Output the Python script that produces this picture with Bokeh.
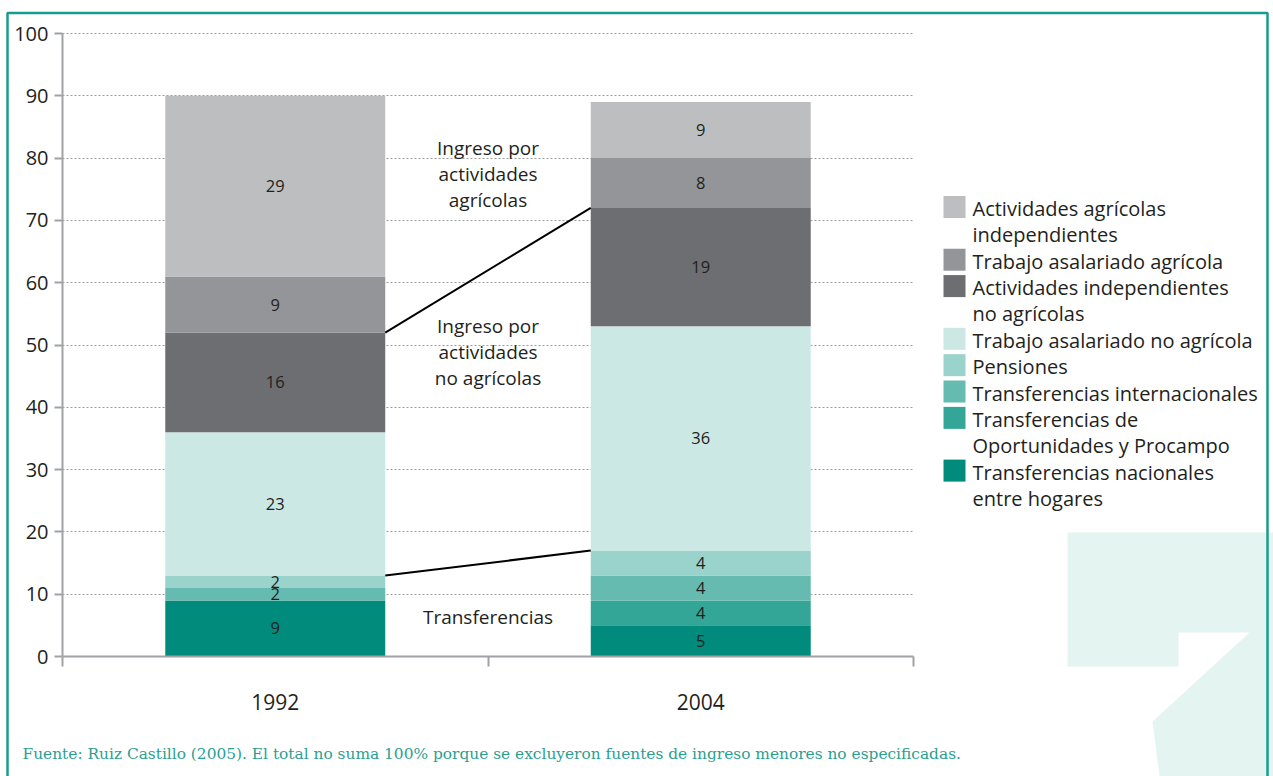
from bokeh.plotting import figure
from bokeh.models import Range1d, FixedTicker, PolyAnnotation, Label, ColumnDataSource
from bokeh.core.properties import value
from bokeh.embed import file_html
from bokeh.resources import INLINE

# ---------------- data ----------------
years = ["1992", "2004"]
series = [
    "Transferencias nacionales\nentre hogares",
    "Transferencias de\nOportunidades y Procampo",
    "Transferencias internacionales",
    "Pensiones",
    "Trabajo asalariado no agrícola",
    "Actividades independientes\nno agrícolas",
    "Trabajo asalariado agrícola",
    "Actividades agrícolas\nindependientes",
]
v1992 = [9, 0, 2, 2, 23, 16, 9, 29]
v2004 = [5, 4, 4, 4, 36, 19, 8, 9]
colors = ["#008b7c", "#33a697", "#66bbb0", "#99d3cb", "#cce8e4",
          "#6d6e71", "#939598", "#bcbec0"]
y_ticks = [0, 10, 20, 30, 40, 50, 60, 70, 80, 90, 100]
group_labels = ["Transferencias",
                "Ingreso por\nactividades\nno agrícolas",
                "Ingreso por\nactividades\nagrícolas"]
group_ends = [4, 6]   # series counts closing the transfer and non-agricultural groups
footnote = ("Fuente: Ruiz Castillo (2005). El total no suma 100% porque se "
            "excluyeron fuentes de ingreso menores no especificadas.")

# ---------------- layout ----------------
W, H = 1273, 776
ox, oy = 62, 656          # canvas pixel of data (0, 0)
band_px = 425.5           # pixels per category band
px_per_y = 6.23           # pixels per percentage point

def X(px):
    return (px - ox) / band_px

def Y(py):
    return (oy - py) / px_per_y

TXT = "#231f20"
FONT = "Open Sans"
AX = "#a0a2a5"

p = figure(width=W, height=H, output_backend="svg", toolbar_location=None,
           title=None, x_range=Range1d(X(0), X(W)), y_range=Range1d(Y(H), Y(0)),
           min_border=0)
p.outline_line_color = None
p.background_fill_color = "white"
p.border_fill_color = "white"

# decoration + frame border
p.add_layout(PolyAnnotation(
    xs=[X(1067), X(1300), X(1300), X(1162), X(1152), X(1249), X(1178), X(1178), X(1067)],
    ys=[Y(532), Y(532), Y(800), Y(800), Y(721), Y(632), Y(632), Y(666), Y(666)],
    fill_color="#e4f4f1", fill_alpha=1, line_color=None, level="underlay"))
p.add_layout(PolyAnnotation(
    xs=[X(7), X(7), X(1267), X(1267)], ys=[Y(820), Y(12.5), Y(12.5), Y(820)],
    fill_alpha=0, line_color="#1a9c8c", line_alpha=1, line_width=2.5, level="overlay"))

# axes (pinned at data zero)
p.yaxis.fixed_location = 0
p.yaxis.bounds = (0, 100)
p.yaxis.ticker = FixedTicker(ticks=y_ticks)
p.yaxis.major_label_text_font = FONT
p.yaxis.major_label_text_font_size = "20px"
p.yaxis.major_label_text_color = TXT
p.yaxis.major_label_standoff = 6
p.yaxis.major_tick_out = 8
p.yaxis.major_tick_in = 0
p.yaxis.major_tick_line_color = AX
p.yaxis.major_tick_line_width = 2
p.yaxis.axis_line_color = AX
p.yaxis.axis_line_width = 2
p.yaxis.minor_tick_line_color = None

xpos = [i + 0.5 for i in range(len(years))]
p.xaxis.fixed_location = 0
p.xaxis.ticker = FixedTicker(ticks=xpos, minor_ticks=list(range(len(years) + 1)))
p.xaxis.bounds = (0, len(years))
p.xaxis.major_label_overrides = {x: y for x, y in zip(xpos, years)}
p.xaxis.major_label_text_font = FONT
p.xaxis.major_label_text_font_size = "21px"
p.xaxis.major_label_text_color = TXT
p.xaxis.major_label_standoff = 27
p.xaxis.major_tick_out = 0
p.xaxis.major_tick_in = 0
p.xaxis.minor_tick_out = 10
p.xaxis.minor_tick_in = 0
p.xaxis.minor_tick_line_color = AX
p.xaxis.minor_tick_line_width = 2
p.xaxis.axis_line_color = AX
p.xaxis.axis_line_width = 2

p.xgrid.visible = False
GRID_C = "#9a9a9a"
if "cross_bounds" in p.ygrid[0].properties():
    p.ygrid.ticker = FixedTicker(ticks=y_ticks[1:])
    p.ygrid.cross_bounds = (0, len(years))
    p.ygrid.grid_line_color = GRID_C
    p.ygrid.grid_line_dash = "2 2"
    p.ygrid.grid_line_width = 1
else:
    p.ygrid.visible = False
    p.multi_line(xs=[[0, len(years)] for _ in y_ticks[1:]],
                 ys=[[t, t] for t in y_ticks[1:]],
                 line_color=GRID_C, line_dash="2 2", line_width=1, level="underlay")

# bars
bar_w = 0.517
values = [v1992, v2004]
cum = [[0] for _ in years]
for vals, c in zip(values, cum):
    for v in vals:
        c.append(c[-1] + v)

lab_x, lab_y, lab_t = [], [], []
for k, name in enumerate(series):
    src = ColumnDataSource(dict(
        x=xpos,
        bottom=[cum[i][k] for i in range(len(years))],
        top=[cum[i][k + 1] for i in range(len(years))]))
    p.vbar(x="x", width=bar_w, bottom="bottom", top="top", source=src,
           fill_color=colors[k], line_color=None)
    for i in range(len(years)):
        v = values[i][k]
        if v > 0:
            lab_x.append(xpos[i])
            lab_y.append((cum[i][k] + cum[i][k + 1]) / 2)
            lab_t.append(str(v))

p.text(x=lab_x, y=lab_y, text=lab_t, text_align="center", text_baseline="middle",
       text_font=value(FONT), text_font_size="16.5px", text_color=TXT)

# connector lines between the groups
for g in group_ends:
    p.line(x=[xpos[0] + bar_w / 2, xpos[1] - bar_w / 2],
           y=[cum[0][g], cum[1][g]], line_color="black", line_width=2)

# group labels in the gap
group_centers = [Y(616), Y(351), Y(173)]
line_step = 26 / px_per_y
gx, gy, gt = [], [], []
for lab, yc in zip(group_labels, group_centers):
    lines = lab.split("\n")
    n = len(lines)
    for j, t in enumerate(lines):
        gx.append(1.0)
        gy.append(yc + ((n - 1) / 2 - j) * line_step)
        gt.append(t)
p.text(x=gx, y=gy, text=gt, text_align="center", text_baseline="middle",
       text_font=value(FONT), text_font_size="19px", text_color=TXT)

# legend (top to bottom = top of stack first)
leg_sq_x = X(954)
leg_tx_x = X(972)
leg_top = Y(208)
leg_step = 26.36 / px_per_y
sq_x, sq_y, sq_c = [], [], []
tx_x, tx_y, tx_t = [], [], []
line_no = 0
for k in reversed(range(len(series))):
    lines = series[k].split("\n")
    y0 = leg_top - line_no * leg_step
    sq_x.append(leg_sq_x)
    sq_y.append(y0 + 1.5 / px_per_y)
    sq_c.append(colors[k])
    for t in lines:
        tx_x.append(leg_tx_x)
        tx_y.append(leg_top - line_no * leg_step)
        tx_t.append(t)
        line_no += 1
p.scatter(x=sq_x, y=sq_y, marker="square", size=22, fill_color=sq_c, line_color=None)
p.text(x=tx_x, y=tx_y, text=tx_t, text_align="left", text_baseline="middle",
       text_font=value(FONT), text_font_size="20px", text_color=TXT)

# footnote
p.add_layout(Label(x=X(22), y=Y(753), text=footnote, text_align="left",
                   text_baseline="middle", text_font="DejaVu Serif",
                   text_font_size="15.4px", text_color="#2a9f91"))

open("out.html", "w").write(file_html(p, INLINE))
